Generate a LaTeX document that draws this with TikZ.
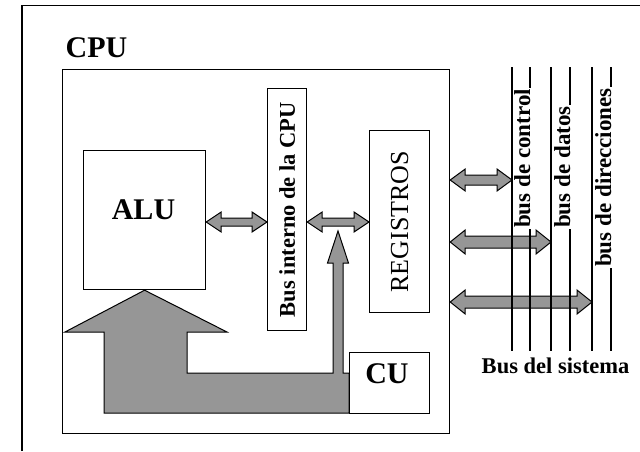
\documentclass[tikz,border=0pt]{standalone}
\usepackage{fontspec}
\setmainfont{Liberation Serif}
\usepackage{graphicx}
\usetikzlibrary{calc}
\definecolor{busgray}{RGB}{150,150,150}
\tikzset{
  box/.style={draw, line width=1.2pt, fill=white, inner sep=0pt, anchor=north west},
  busfill/.style={draw, line width=1pt, fill=busgray, line join=miter},
  busline/.style={line width=1.1pt},
  bigtext/.style={font=\fontsize{30}{30}\selectfont\bfseries, inner sep=0pt, anchor=base},
  vlabel/.style={font=\fontsize{23}{23}\selectfont\bfseries, rotate=90, anchor=base west,
    inner xsep=1pt, inner ysep=0pt, fill=white, text depth=1pt},
}
\newcommand{\dblarrow}[4]{%
  \path[busfill] let \p1=#1, \p2=#2 in
    (\x1,\y1) -- (\x1+15pt,\y1+#4) -- (\x1+15pt,\y1+#3) -- (\x2-15pt,\y1+#3)
    -- (\x2-15pt,\y1+#4) -- (\x2,\y1) -- (\x2-15pt,\y1-#4) -- (\x2-15pt,\y1-#3)
    -- (\x1+15pt,\y1-#3) -- (\x1+15pt,\y1-#4) -- cycle;}
\begin{document}
\begin{tikzpicture}[x=1pt, y=-1pt]
  \useasboundingbox (0,0) rectangle (640,451);
  \draw[line width=1.2pt] (22,451) -- (22,5.7) -- (640,5.7);
  \node[bigtext] (cputxt) at (96.5,57) {CPU};
  \node[box, minimum width=387pt, minimum height=364pt] (cpu) at (62,69) {};
  \node[box, minimum width=122pt, minimum height=139pt] (alu) at (83,150) {};
  \node[bigtext] (alutxt) at (143.5,219) {ALU};
  \node[box, minimum width=39pt, minimum height=242pt] (bus) at (267,88)
    {\fontsize{22.5}{22.5}\selectfont\bfseries\rotatebox{90}{Bus interno de la CPU}};
  \node[box, minimum width=60pt, minimum height=182pt] (reg) at (369,130)
    {\fontsize{26}{26}\selectfont\rotatebox{90}{REGISTROS}};
  \draw[busfill] (alu.south) -- (227,332) -- (187,332) -- (187,373) -- (333,373)
    -- (333,263) -- (327.5,263) -- (338,231) -- (348.5,263) -- (343,263)
    -- (343,373) -- (349,373) -- (349,413) -- (104,413) -- (104,332) -- (65,332) -- cycle;
  \node[box, minimum width=80pt, minimum height=61pt] (cu) at (349,352) {};
  \node[bigtext] (cutxt) at (387,383) {CU};
  \dblarrow{(alu.east |- 0,222)}{(bus.west |- 0,222)}{4pt}{10pt}
  \dblarrow{(bus.east |- 0,222)}{(reg.west |- 0,222)}{4pt}{10pt}
  \foreach \x [count=\i] in {512,530,551,570,592,611}
    \coordinate (t\i) at (\x,67);
  \foreach \x [count=\i] in {512,530,551,570,592,611}
    \coordinate (b\i) at (\x,351);
  \dblarrow{(cpu.east |- 0,180)}{(t1 |- 0,180)}{5pt}{11pt}
  \dblarrow{(cpu.east |- 0,242)}{(t3 |- 0,242)}{6pt}{12pt}
  \dblarrow{(cpu.east |- 0,302)}{(t5 |- 0,302)}{6pt}{12pt}
  \foreach \i in {1,...,6}
    \draw[busline] (t\i) -- (b\i);
  \node[vlabel] (ctrl) at (530,229) {bus de control};
  \node[vlabel] (datos) at (570,229) {bus de datos};
  \node[vlabel] (dir) at (611,268) {bus de direcciones};
  \node[font=\fontsize{22.5}{22.5}\selectfont\bfseries, anchor=base, inner sep=0pt]
    (sys) at (555.5,373) {Bus del sistema};
\end{tikzpicture}
\end{document}
